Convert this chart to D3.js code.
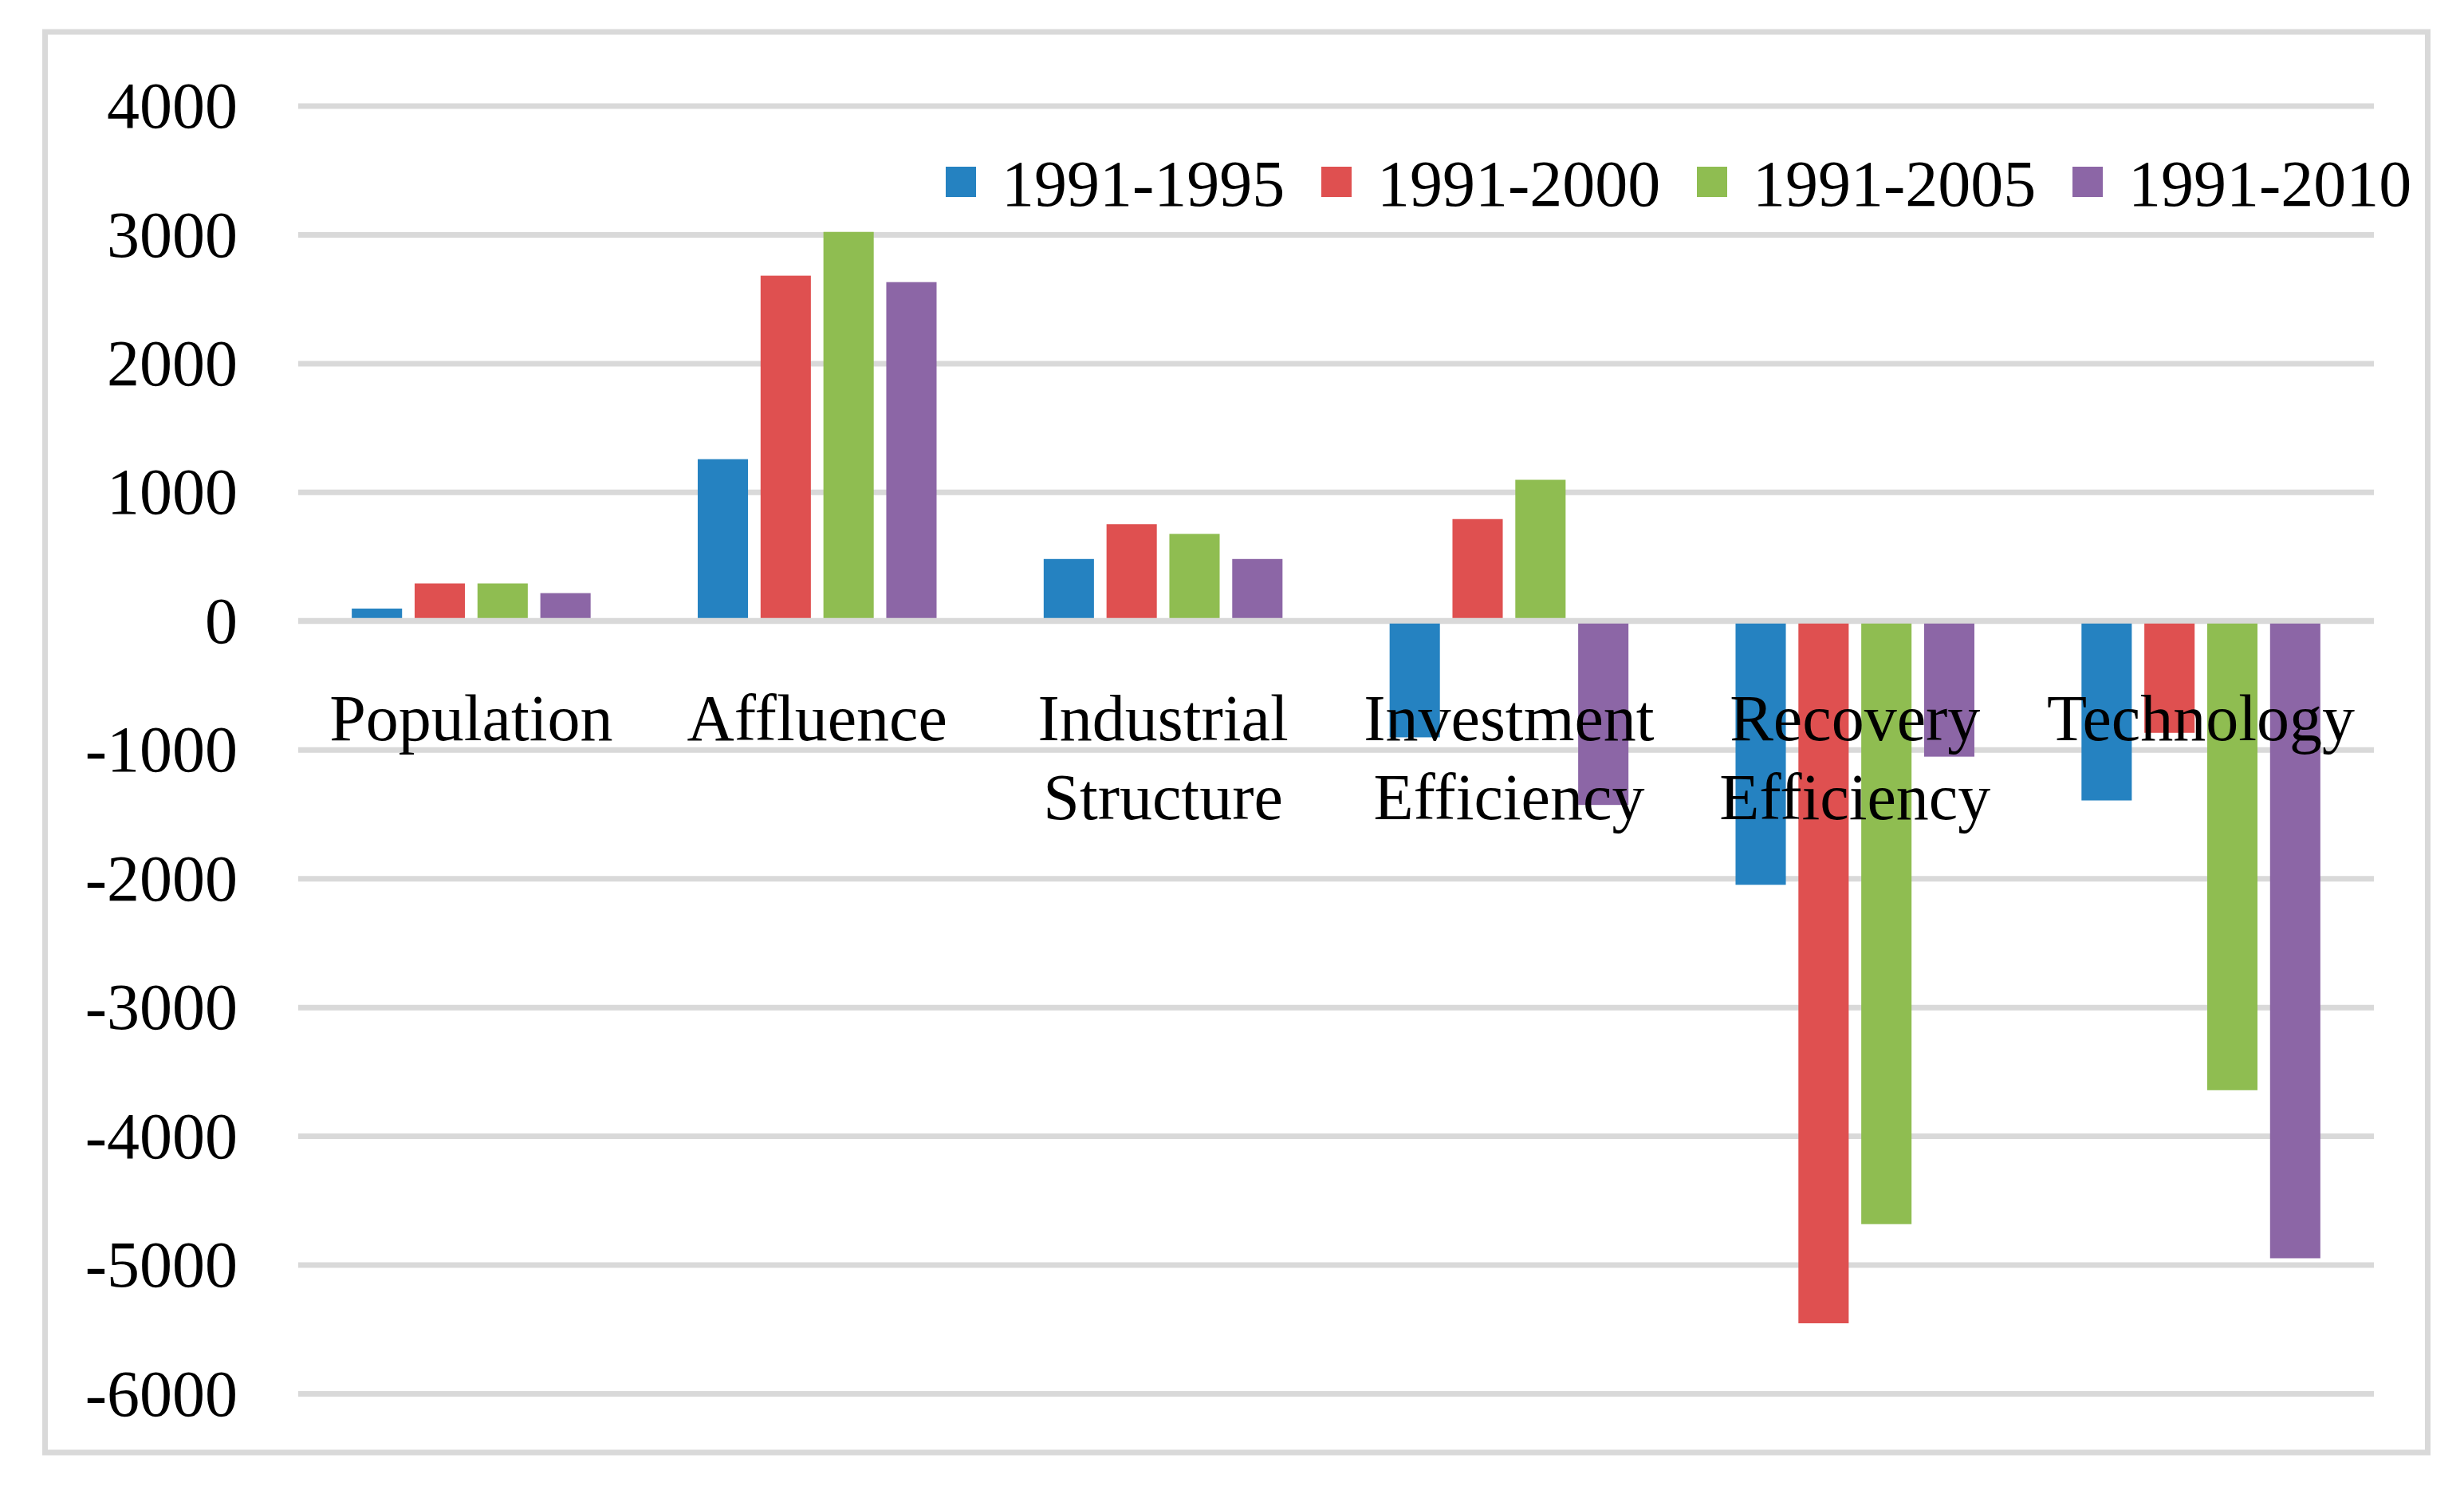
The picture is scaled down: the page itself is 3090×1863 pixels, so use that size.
<!DOCTYPE html>
<html>
<head>
<meta charset="utf-8">
<script src="https://cdn.jsdelivr.net/npm/d3@7"></script>
<style>
  body { margin: 0; background: #fff; }
  svg text { font-family: "Liberation Serif", "Times New Roman", serif; fill: #000; }
</style>
</head>
<body>
<script>
// categories, each split into its display lines
const categories = ["Population", "Affluence", "Industrial Structure", "Investment Efficiency", "Recovery Efficiency", "Technology"];
const categoryLines = [["Population"], ["Affluence"], ["Industrial", "Structure"], ["Investment", "Efficiency"], ["Recovery", "Efficiency"], ["Technology"]];

const seriesNames = ["1991-1995", "1991-2000", "1991-2005", "1991-2010"];
const seriesColors = ["#2582c1", "#df5050", "#8fbd51", "#8c66a6"];

// values per series, in category order
const s1995 = [95, 1255, 480, -905, -2050, -1395];
const s2000 = [290, 2680, 750, 790, -5455, -870];
const s2005 = [290, 3020, 675, 1095, -4685, -3645];
const s2010 = [215, 2630, 480, -1430, -1055, -4950];
const seriesValues = [s1995, s2000, s2005, s2010];

const yTicks = [4000, 3000, 2000, 1000, 0, -1000, -2000, -3000, -4000, -5000, -6000];

const W = 3090, H = 1863;
const plot = { left: 374, right: 2977, top: 132.5, bottom: 1747 };

const svg = d3.select("body").append("svg")
  .attr("width", W)
  .attr("height", H);

// outer chart border
svg.append("rect")
  .attr("x", 56.5).attr("y", 40)
  .attr("width", 3044.5 - 56.5).attr("height", 1821 - 40)
  .attr("fill", "none")
  .attr("stroke", "#d9d9d9")
  .attr("stroke-width", 7);

const x = d3.scaleBand().domain(categories).range([plot.left, plot.right]);
const y = d3.scaleLinear().domain([-6000, 4000]).range([plot.bottom, plot.top]);

// bar layout like excel: gap width ~213%, overlap -25%
const gapWidth = 2.13, overlap = 0.25;
const barW = x.bandwidth() / (4 + 3 * overlap + gapWidth);
const x1 = d3.scaleBand().domain(seriesNames)
  .range([0, barW * (4 + 3 * overlap)])
  .paddingInner(overlap / (1 + overlap));

const g = svg.append("g");

// y axis with gridlines (plain hyphen for negatives, like the original)
const yaxis = d3.axisLeft(y)
  .tickValues(yTicks)
  .tickSizeInner(-(plot.right - plot.left))
  .tickSizeOuter(0)
  .tickPadding(76)
  .tickFormat((d) => String(d));

const gy = g.append("g")
  .attr("transform", `translate(${plot.left},0)`)
  .call(yaxis);
gy.select(".domain").remove();
gy.selectAll(".tick line").attr("stroke", "#d9d9d9").attr("stroke-width", 7);
gy.selectAll(".tick text")
  .attr("font-size", 82)
  .attr("font-family", "Liberation Serif")
  .attr("dy", "0.33em");

// bars
const rows = categories.map((c, i) => ({ cat: c, vals: seriesValues.map((s, j) => ({ name: seriesNames[j], v: s[i], j })) }));

g.selectAll(".grp")
  .data(rows)
  .join("g")
  .attr("class", "grp")
  .attr("transform", (d) => `translate(${x(d.cat) + barW * gapWidth / 2},0)`)
  .selectAll("rect")
  .data((d) => d.vals)
  .join("rect")
  .attr("x", (d) => x1(d.name))
  .attr("width", x1.bandwidth())
  .attr("y", (d) => y(Math.max(0, d.v)))
  .attr("height", (d) => Math.abs(y(d.v) - y(0)))
  .attr("fill", (d) => seriesColors[d.j]);

// horizontal axis line sits over the bars
g.append("line")
  .attr("x1", plot.left).attr("x2", plot.right)
  .attr("y1", y(0)).attr("y2", y(0))
  .attr("stroke", "#d9d9d9")
  .attr("stroke-width", 7);

// category labels
const labels = g.selectAll(".cat")
  .data(categories)
  .join("text")
  .attr("class", "cat")
  .attr("text-anchor", "middle")
  .attr("font-size", 82)
  .attr("x", (d) => x(d) + x.bandwidth() / 2)
  .attr("y", 928);
labels.selectAll("tspan")
  .data((d, i) => categoryLines[i])
  .join("tspan")
  .attr("x", function () { return d3.select(this.parentNode).attr("x"); })
  .attr("dy", (d, i) => (i === 0 ? 0 : 99))
  .text((d) => d);

// legend
const legend = svg.append("g").attr("transform", "translate(1186,0)");
const item = legend.selectAll(".item")
  .data(seriesNames)
  .join("g")
  .attr("class", "item")
  .attr("transform", (d, i) => `translate(${i * 471},0)`);
item.append("rect")
  .attr("x", 0).attr("y", 209)
  .attr("width", 38).attr("height", 38)
  .attr("fill", (d, i) => seriesColors[i]);
item.append("text")
  .attr("x", 70).attr("y", 258)
  .attr("font-size", 82)
  .text((d) => d);
</script>
</body>
</html>
